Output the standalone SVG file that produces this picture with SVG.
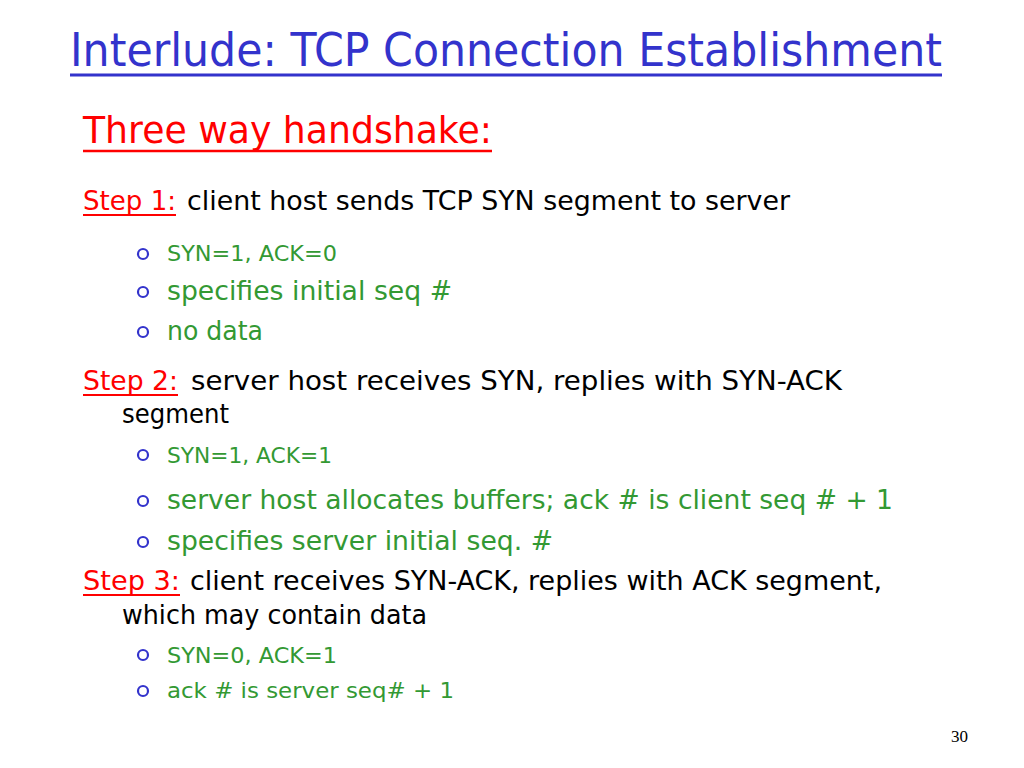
<svg xmlns="http://www.w3.org/2000/svg" width="1024" height="768" viewBox="0 0 1024 768">
<style>
text{font-family:"DejaVu Sans","Liberation Sans",sans-serif;}
.title{fill:#3333cc;font-size:46px;}
.sub{fill:#ff0000;font-size:38px;}
.step{fill:#ff0000;font-size:27px;}
.body{fill:#000000;font-size:27px;}
.g1{fill:#339933;font-size:22px;}
.g2{fill:#339933;font-size:26px;}
.bul{fill:none;stroke:#3333cc;stroke-width:2.2;}
.num{font-family:"Liberation Serif",serif;font-size:17px;fill:#000;}
</style>
<rect width="1024" height="768" fill="#ffffff"/>
<g id="title">
<text class="title" x="70" y="66" textLength="872" lengthAdjust="spacingAndGlyphs">Interlude: TCP Connection Establishment</text>
<line x1="70" y1="75" x2="942" y2="75" stroke="#3333cc" stroke-width="3"/>
</g>
<g id="subtitle">
<text class="sub" x="83" y="143" textLength="409" lengthAdjust="spacingAndGlyphs">Three way handshake:</text>
<line x1="83" y1="151" x2="492" y2="151" stroke="#ff0000" stroke-width="2.5"/>
</g>
<g id="step1">
<text class="step" x="83" y="210" textLength="93" lengthAdjust="spacingAndGlyphs">Step 1:</text>
<line x1="83" y1="215" x2="176" y2="215" stroke="#ff0000" stroke-width="2"/>
<text class="body" x="187" y="210" textLength="603" lengthAdjust="spacingAndGlyphs">client host sends TCP SYN segment to server</text>
<circle class="bul" cx="143" cy="254" r="5"/>
<text class="g1" x="167" y="261" textLength="170" lengthAdjust="spacingAndGlyphs">SYN=1, ACK=0</text>
<circle class="bul" cx="143" cy="292" r="5"/>
<text class="g2" x="167" y="300" textLength="285" lengthAdjust="spacingAndGlyphs">specifies initial seq #</text>
<circle class="bul" cx="143" cy="332" r="5"/>
<text class="g2" x="167" y="340" textLength="96" lengthAdjust="spacingAndGlyphs">no data</text>
</g>
<g id="step2">
<text class="step" x="83" y="390" textLength="95" lengthAdjust="spacingAndGlyphs">Step 2:</text>
<line x1="83" y1="395" x2="178" y2="395" stroke="#ff0000" stroke-width="2"/>
<text class="body" x="191" y="390" textLength="651" lengthAdjust="spacingAndGlyphs">server host receives SYN, replies with SYN-ACK</text>
<text class="body" x="122" y="423" textLength="107" lengthAdjust="spacingAndGlyphs">segment</text>
<circle class="bul" cx="143" cy="455" r="5"/>
<text class="g1" x="167" y="463" textLength="165" lengthAdjust="spacingAndGlyphs">SYN=1, ACK=1</text>
<circle class="bul" cx="143" cy="501" r="5"/>
<text class="g2" x="167" y="509" textLength="726" lengthAdjust="spacingAndGlyphs">server host allocates buffers; ack # is client seq # + 1</text>
<circle class="bul" cx="143" cy="542" r="5"/>
<text class="g2" x="167" y="550" textLength="386" lengthAdjust="spacingAndGlyphs">specifies server initial seq. #</text>
</g>
<g id="step3">
<text class="step" x="83" y="590" textLength="97" lengthAdjust="spacingAndGlyphs">Step 3:</text>
<line x1="83" y1="595" x2="180" y2="595" stroke="#ff0000" stroke-width="2"/>
<text class="body" x="190" y="590" textLength="692" lengthAdjust="spacingAndGlyphs">client receives SYN-ACK, replies with ACK segment,</text>
<text class="body" x="122" y="624" textLength="305" lengthAdjust="spacingAndGlyphs">which may contain data</text>
<circle class="bul" cx="143" cy="655" r="5"/>
<text class="g1" x="167" y="663" textLength="170" lengthAdjust="spacingAndGlyphs">SYN=0, ACK=1</text>
<circle class="bul" cx="143" cy="691" r="5"/>
<text class="g1" x="167" y="698" textLength="287" lengthAdjust="spacingAndGlyphs">ack # is server seq# + 1</text>
</g>
<g id="page">
<text class="num" x="951" y="742">30</text>
</g>
<g id="connectors"></g>
</svg>
